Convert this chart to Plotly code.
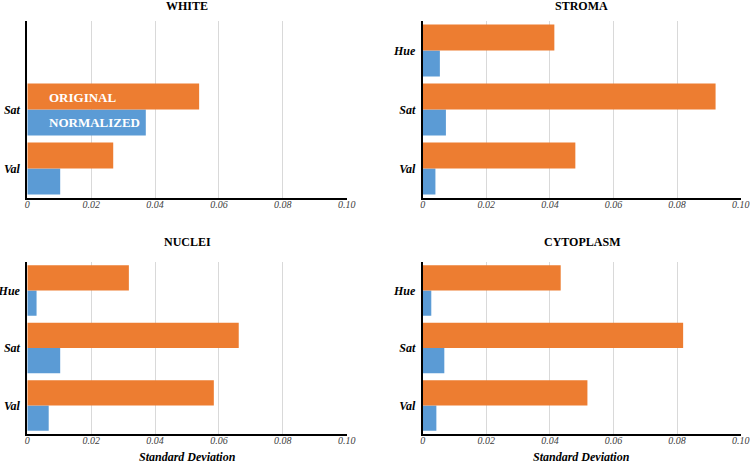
import plotly.graph_objects as go

categories = ["Hue", "Sat", "Val"]
panels = ["WHITE", "STROMA", "NUCLEI", "CYTOPLASM"]
original = {
    "WHITE": [None, 0.0538, 0.0269],
    "STROMA": [0.0414, 0.0921, 0.0480],
    "NUCLEI": [0.0318, 0.0662, 0.0584],
    "CYTOPLASM": [0.0434, 0.0819, 0.0518],
}
normalized = {
    "WHITE": [None, 0.0371, 0.0103],
    "STROMA": [0.0054, 0.0073, 0.0040],
    "NUCLEI": [0.0029, 0.0103, 0.0067],
    "CYTOPLASM": [0.0027, 0.0068, 0.0043],
}
tick_vals = [0, 0.02, 0.04, 0.06, 0.08, 0.10]
tick_text = ["0", "0.02", "0.04", "0.06", "0.08", "0.10"]

ORANGE = "#ED7D31"
BLUE = "#5B9BD5"
SERIF = "Times New Roman, Liberation Serif, DejaVu Serif, serif"
W, H = 750, 463

def px_x(p):
    return p / W

def px_y(p):
    return 1 - p / H

xdomains = [(px_x(27.3), px_x(346.7)), (px_x(422.7), px_x(740.7))] * 2
ydomains = [(px_y(198), px_y(21))] * 2 + [(px_y(434.3), px_y(261.7))] * 2

fig = go.Figure()
layout = dict(
    width=W, height=H,
    margin=dict(l=0, r=0, t=0, b=0),
    paper_bgcolor="white", plot_bgcolor="white",
    barmode="group", bargap=0.12, bargroupgap=0,
    showlegend=False,
    font=dict(family=SERIF, color="black"),
)
annotations = []
for i, name in enumerate(panels):
    n = "" if i == 0 else str(i + 1)
    xa, ya = "x" + n, "y" + n
    fig.add_trace(go.Bar(y=categories, x=normalized[name], orientation="h",
                         marker=dict(color=BLUE, line=dict(width=0)),
                         xaxis=xa, yaxis=ya, name="NORMALIZED", offsetgroup="n"))
    fig.add_trace(go.Bar(y=categories, x=original[name], orientation="h",
                         marker=dict(color=ORANGE, line=dict(width=0)),
                         xaxis=xa, yaxis=ya, name="ORIGINAL", offsetgroup="o"))
    layout["xaxis" + n] = dict(
        domain=xdomains[i], anchor=ya, range=[0, 0.1],
        tickvals=tick_vals, ticktext=tick_text,
        tickfont=dict(family=SERIF, size=10, color="#404040", style="italic"),
        showgrid=True, gridcolor="#d9d9d9", gridwidth=1,
        showline=True, linecolor="black", linewidth=2,
        zeroline=False, ticks="", ticklabelstandoff=-4,
        automargin=False, fixedrange=True,
    )
    shown = [c for c, v in zip(categories, original[name]) if v is not None]
    layout["yaxis" + n] = dict(
        domain=ydomains[i], anchor=xa,
        categoryorder="array", categoryarray=categories[::-1],
        range=[-0.5, 2.5], tickmode="array", tickvals=shown, ticktext=shown,
        tickfont=dict(family=SERIF, size=12, color="black", style="italic", weight="bold"),
        showgrid=False, showline=True, linecolor="black", linewidth=2,
        zeroline=False, ticks="", ticklabelstandoff=3, automargin=False, fixedrange=True,
    )
    cx = (xdomains[i][0] + xdomains[i][1]) / 2
    ty = px_y(6) if i < 2 else px_y(242)
    annotations.append(dict(text="<b>%s</b>" % name, x=cx, y=ty, xref="paper", yref="paper",
                            showarrow=False, xanchor="center", yanchor="middle",
                            font=dict(family=SERIF, size=12, color="black")))

for i in (2, 3):
    cx = (xdomains[i][0] + xdomains[i][1]) / 2
    annotations.append(dict(text="<b><i>Standard Deviation</i></b>", x=cx, y=px_y(457),
                            xref="paper", yref="paper", showarrow=False,
                            xanchor="center", yanchor="middle",
                            font=dict(family=SERIF, size=12, color="black")))

annotations.append(dict(text="<b>ORIGINAL</b>", x=0.0063, y="Sat", xref="x", yref="y",
                        yshift=12.5, showarrow=False, xanchor="left", yanchor="middle",
                        font=dict(family=SERIF, size=13, color="white")))
annotations.append(dict(text="<b>NORMALIZED</b>", x=0.0063, y="Sat", xref="x", yref="y",
                        yshift=-12.5, showarrow=False, xanchor="left", yanchor="middle",
                        font=dict(family=SERIF, size=13, color="white")))

layout["annotations"] = annotations
fig.update_layout(**layout)
fig.write_html("out.html", config={"displayModeBar": False},
               post_script="document.body.style.margin='0';document.body.style.padding='0';")
